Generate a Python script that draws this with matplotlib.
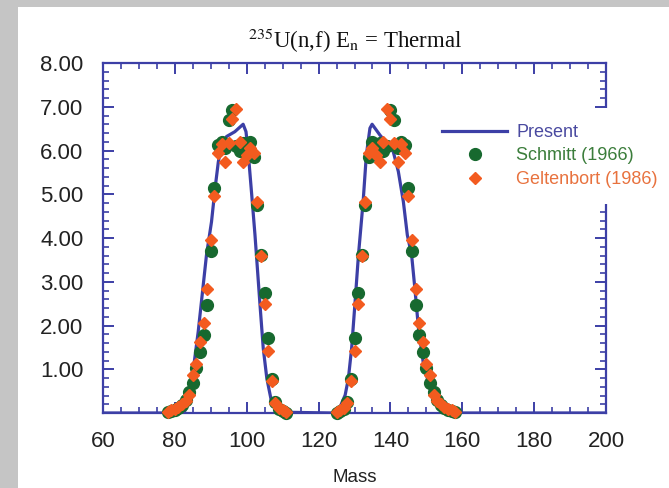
import matplotlib
matplotlib.use('Agg')
import matplotlib.pyplot as plt
from matplotlib.ticker import MultipleLocator, FixedLocator, FormatStrFormatter
from matplotlib.patches import Rectangle

# masses of the two humps
mass_light = list(range(78, 112))
mass_heavy = list(range(125, 159))

# Schmitt (1966)
schmitt_light = [0.02, 0.04, 0.07, 0.12, 0.19, 0.30, 0.48, 0.68, 1.02, 1.40, 1.78, 2.47,
                 3.70, 5.15, 6.13, 6.20, 6.05, 6.70, 6.93, 6.10, 6.00, 6.17, 6.05, 6.20,
                 5.86, 4.75, 3.62, 2.74, 1.72, 0.78, 0.26, 0.10, 0.04, 0.01]
schmitt_heavy = [0.01, 0.04, 0.10, 0.26, 0.78, 1.72, 2.74, 3.62, 4.75, 5.86, 6.20, 6.05,
                 6.17, 6.00, 6.10, 6.93, 6.70, 6.05, 6.20, 6.13, 5.15, 3.70, 2.47, 1.78,
                 1.40, 1.02, 0.68, 0.48, 0.30, 0.19, 0.12, 0.07, 0.04, 0.02]

# Geltenbort (1986)
gelt_light = [0.03, 0.06, 0.09, 0.14, 0.20, 0.28, 0.42, 0.87, 1.13, 1.62, 2.05, 2.83,
              3.95, 4.95, 5.94, 6.15, 5.74, 6.17, 6.72, 6.96, 6.20, 5.74, 5.90, 6.05,
              5.95, 4.83, 3.60, 2.50, 1.42, 0.74, 0.24, 0.12, 0.06, 0.02]
gelt_heavy = [0.02, 0.06, 0.12, 0.24, 0.74, 1.42, 2.50, 3.60, 4.83, 5.95, 6.05, 5.90,
              5.74, 6.20, 6.96, 6.72, 6.17, 5.74, 6.15, 5.94, 4.95, 3.95, 2.83, 2.05,
              1.62, 1.13, 0.87, 0.42, 0.28, 0.20, 0.14, 0.09, 0.06, 0.03]

# present calculation (curve)
present_mass = [60, 82.0, 82.8, 84.2, 85.3, 86.5, 87.5, 88.8, 90.2, 91.2, 92.1, 93.0,
                94.4, 96.7, 99.0, 99.8, 100.4, 101.4, 102.3, 102.8, 103.7, 104.6, 105.6,
                106.9, 108.3, 124.1, 126.0, 127.4, 128.3, 129.2, 130.1, 131.1, 132.4,
                133.3, 134.3, 134.9, 137.1, 139.4, 140.8, 142.2, 143.6, 144.7, 145.9,
                146.8, 147.8, 149.1, 151.0, 153.3, 156.1, 158.4, 200]
present_yield = [0, 0, 0.05, 0.56, 1.10, 1.86, 2.62, 3.61, 4.37, 5.14, 5.74, 6.13,
                 6.32, 6.43, 6.60, 6.43, 5.97, 4.98, 4.07, 3.50, 2.47, 1.48, 0.79,
                 0.26, 0.02, 0, 0.14, 0.41, 0.79, 1.48, 2.47, 3.61, 4.83,
                 5.90, 6.51, 6.60, 6.35, 6.13, 5.97, 5.52, 4.83, 4.07, 3.61,
                 2.85, 1.94, 1.17, 0.56, 0.18, 0.03, 0, 0]

x_ticks = [60, 80, 100, 120, 140, 160, 180, 200]
y_ticks = [1, 2, 3, 4, 5, 6, 7, 8]

blue = '#3c3fa6'
green = '#17692f'
orange = '#f35b1f'

plt.rcParams['font.family'] = ['Liberation Sans', 'DejaVu Sans']
plt.rcParams['mathtext.fontset'] = 'stix'

fig = plt.figure(figsize=(6.69, 4.88), dpi=100, facecolor='#c5c5c5')
# white panel
fig.patches.append(Rectangle((18 / 669, 0), 1, 1 - 7 / 488, transform=fig.transFigure,
                             facecolor='white', edgecolor='none', zorder=-10))

ax = fig.add_axes([103 / 669, 1 - 413 / 488, 503 / 669, 350 / 488])
ax.set_facecolor('white')

ax.plot(present_mass, present_yield, color=blue, lw=2.3, zorder=2, label='Present')
ax.plot(mass_light + mass_heavy, schmitt_light + schmitt_heavy, 'o', color=green,
        ms=8.5, mec=green, zorder=3, clip_on=False, label='Schmitt (1966)')
ax.plot(mass_light + mass_heavy, gelt_light + gelt_heavy, 'D', color=orange,
        ms=6, mec=orange, zorder=4, clip_on=False, label='Geltenbort (1986)')

ax.set_xlim(60, 200)
ax.set_ylim(0, 8)
ax.xaxis.set_major_locator(FixedLocator(x_ticks))
ax.xaxis.set_minor_locator(MultipleLocator(5))
ax.yaxis.set_major_locator(FixedLocator(y_ticks))
ax.yaxis.set_minor_locator(MultipleLocator(0.2))
ax.yaxis.set_major_formatter(FormatStrFormatter('%.2f'))

for s in ax.spines.values():
    s.set_color(blue)
    s.set_linewidth(1.6)

ax.tick_params(which='both', direction='in', top=True, right=True, color=blue,
               labelsize=16, labelcolor='#222222')
ax.tick_params(which='major', length=8, width=1.4)
ax.tick_params(which='minor', length=4, width=1.2)
ax.tick_params(axis='y', pad=14)
ax.tick_params(axis='x', pad=13)

ax.set_xlabel('Mass', fontsize=13.5, color='#222222', labelpad=12)

fig.text(355 / 669, 1 - 41 / 488, r'$^{235}$U(n,f) E$_{\mathrm{n}}$ = Thermal',
         family='Liberation Serif', fontsize=16.5, ha='center', va='center', color='#111111')

leg = ax.legend(loc='center left', bbox_to_anchor=(426 / 669, 1 - 156 / 488),
                bbox_transform=fig.transFigure, fontsize=13, frameon=True,
                fancybox=False, edgecolor='none', facecolor='white', framealpha=1,
                handlelength=3.6, handletextpad=0.5, labelspacing=0.35,
                borderpad=0.9, borderaxespad=0)
for t, c in zip(leg.get_texts(), ['#4a4aa0', '#3b7d3b', '#e8723e']):
    t.set_color(c)

fig.savefig('out.png', dpi=100, facecolor=fig.get_facecolor())
